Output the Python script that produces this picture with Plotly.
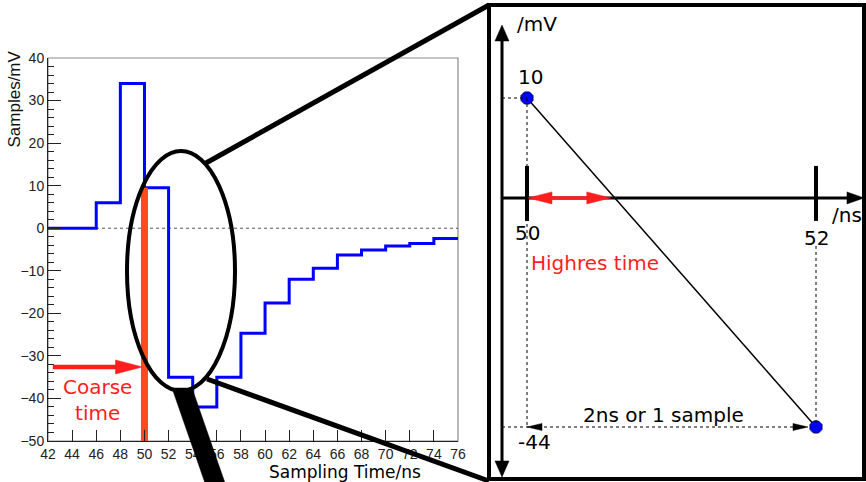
import plotly.graph_objects as go

W, H = 866, 482

# ---- waveform samples, one value per 2 ns bin ----
bin_edges = list(range(42, 78, 2))          # 42 ... 76 ns
samples = [0, 0, 6, 34, 9.5, -35, -42, -35, -24.7, -17.6,
           -12, -9.4, -6.3, -5.1, -4.2, -3.6, -2.4]
x_ticks = list(range(42, 78, 2))
y_ticks = list(range(-50, 50, 10))

coarse_time = 50
coarse_value = samples[bin_edges.index(coarse_time)]

# ---- the two samples used for the high-resolution interpolation ----
interp_t = [50, 52]
interp_v = [10, -44]
axis_level = -6.4          # level of the drawn time axis in the zoomed sketch


def lin(a0, p0, a1, p1):
    s = (p1 - p0) / (a1 - a0)
    return lambda a: p0 + (a - a0) * s


def inv(a0, p0, a1, p1):
    s = (a1 - a0) / (p1 - p0)
    return lambda p: a0 + (p - p0) * s


def PX(p):
    return p / W


def PY(p):
    return 1 - p / H


# pixel anchors of the left histogram frame
LX0, LX1, LY_TOP, LY_BOT = 48, 458, 58, 441
X1 = lin(42, LX0, 76, LX1)
Y1 = lin(40, LY_TOP, -50, LY_BOT)

# pixel anchors of the zoomed sketch (covers the whole canvas)
X2 = lin(interp_t[0], 527, interp_t[1], 816)
Y2 = lin(interp_v[0], 98, interp_v[1], 427)
x2_of = inv(interp_t[0], 527, interp_t[1], 816)
y2_of = inv(interp_v[0], 98, interp_v[1], 427)

BLUE = "#0000FF"
RED = "#FF1E1E"
ORANGE = "#FF4A1C"

fig = go.Figure()

# step histogram of the samples
fig.add_trace(go.Scatter(
    x=bin_edges, y=samples + [samples[-1]], mode="lines",
    line=dict(color=BLUE, width=3, shape="hv"),
    xaxis="x", yaxis="y", showlegend=False, hoverinfo="skip"))

# coarse time bar
fig.add_trace(go.Scatter(
    x=[coarse_time, coarse_time], y=[-50, coarse_value], mode="lines",
    line=dict(color=ORANGE, width=7),
    xaxis="x", yaxis="y", showlegend=False, hoverinfo="skip"))

# interpolation line between the two samples
fig.add_trace(go.Scatter(
    x=interp_t, y=interp_v, mode="lines",
    line=dict(color="black", width=1.5),
    xaxis="x2", yaxis="y2", showlegend=False, hoverinfo="skip"))
fig.add_trace(go.Scatter(
    x=interp_t, y=interp_v, mode="markers",
    marker=dict(symbol="octagon", size=13, color=BLUE,
                line=dict(color="#000060", width=1)),
    xaxis="x2", yaxis="y2", showlegend=False, hoverinfo="skip"))

shapes = []


def seg(x0, y0, x1, y1, color="black", width=1, dash="solid"):
    shapes.append(dict(type="line", xref="paper", yref="paper",
                       x0=PX(x0), y0=PY(y0), x1=PX(x1), y1=PY(y1),
                       line=dict(color=color, width=width, dash=dash),
                       layer="above"))


def head(tip, length, half_w, d, color):
    tx, ty = tip
    dx, dy = d
    bx, by = tx - dx * length, ty - dy * length
    nx, ny = -dy, dx
    pts = [(tx, ty), (bx + nx * half_w, by + ny * half_w),
           (bx - nx * half_w, by - ny * half_w)]
    path = "M " + " L ".join(f"{PX(x):.5f},{PY(y):.5f}" for x, y in pts) + " Z"
    shapes.append(dict(type="path", xref="paper", yref="paper", path=path,
                       fillcolor=color, line=dict(color=color, width=0.5),
                       layer="above"))


def poly(pts, color):
    path = "M " + " L ".join(f"{PX(x):.5f},{PY(y):.5f}" for x, y in pts) + " Z"
    shapes.append(dict(type="path", xref="paper", yref="paper", path=path,
                       fillcolor=color, line=dict(color=color, width=0.5),
                       layer="above"))


# grey frame of the histogram pad
shapes.append(dict(type="rect", xref="paper", yref="paper",
                   x0=PX(LX0), x1=PX(LX1), y0=PY(LY_BOT), y1=PY(LY_TOP),
                   line=dict(color="#8c8c8c", width=1.2), layer="below"))
# dotted zero line
shapes.append(dict(type="line", xref="x", yref="y", x0=42, x1=76, y0=0, y1=0,
                   line=dict(color="#555555", width=1, dash="dot"),
                   layer="below"))

# coarse time arrow
cy = Y1(-32.6)
seg(X1(42.4), cy, X1(coarse_time) - 26, cy, RED, 4.5)
head((X1(coarse_time) - 2, cy), 27, 7, (1, 0), RED)

# magnifier lens, handle and the two guide lines to the zoom box
shapes.append(dict(type="circle", xref="paper", yref="paper",
                   x0=PX(127), x1=PX(235), y0=PY(391), y1=PY(151),
                   line=dict(color="black", width=4), layer="above"))
poly([(172, 388), (192, 388), (225, 483), (205, 483)], "black")
seg(206, 163, 489, 5, "black", 5)
seg(207, 379, 489, 481, "black", 5)

# zoom box
shapes.append(dict(type="rect", xref="paper", yref="paper",
                   x0=PX(489), x1=PX(864), y0=PY(479), y1=PY(5),
                   line=dict(color="black", width=4), layer="above"))

# sketch axes
AX = 502
AY = Y2(axis_level)
seg(AX, 40, AX, 462, "black", 3)
head((AX, 25), 16, 7, (0, -1), "black")
head((AX, 477), 16, 7, (0, 1), "black")
seg(AX, AY, 850, AY, "black", 3)
head((864, AY), 17, 6, (1, 0), "black")

# ticks at the sample times
for t in interp_t:
    seg(X2(t), AY - 32, X2(t), AY + 23, "black", 4)

# dotted guides
xa, xb = X2(interp_t[0]), X2(interp_t[1])
ya, yb = Y2(interp_v[0]), Y2(interp_v[1])
seg(AX, ya, xa, ya, "black", 1, "dot")
seg(xa, ya, xa, yb, "black", 1, "dot")
seg(xb, AY + 48, xb, yb, "black", 1, "dot")
seg(AX, yb, xb - 8, yb, "black", 1, "dot")
head((xa, yb), 15, 3.5, (-1, 0), "black")
head((xb - 8, yb), 15, 3.5, (1, 0), "black")

# high resolution time arrow: from the sample time to the line crossing
t_cross = interp_t[0] + (interp_v[0] - axis_level) / (interp_v[0] - interp_v[1]) * (interp_t[1] - interp_t[0])
xc = X2(t_cross) - 4
seg(xa + 20, AY, xc - 20, AY, RED, 3.5)
head((xa + 1, AY), 24, 6, (-1, 0), RED)
head((xc, AY), 24, 6, (1, 0), RED)

annotations = []


def label(text, x, y, size=20, color="black", xanchor="center",
          yanchor="middle", family="DejaVu Sans", angle=0):
    annotations.append(dict(text=text, xref="paper", yref="paper",
                            x=PX(x), y=PY(y), showarrow=False,
                            xanchor=xanchor, yanchor=yanchor,
                            textangle=angle,
                            font=dict(family=family, size=size, color=color)))


label("Coarse<br>time", 61, 400, 20, RED, xanchor="left")
label("Highres time", 595, 263, 20, RED)
label("/mV", 537, 24, 20)
label("/ns", 847, 215, 20)
label(f"{interp_v[0]:g}", xa + 3, 77, 20)
label(f"{interp_v[1]:g}", xa + 7, 442, 20)
label(f"{interp_t[0]:g}", xa, 233, 20)
label(f"{interp_t[1]:g}", xb, 238, 20)
label("2ns or 1 sample", 663, 415, 20)
label("Sampling Time/ns", 345, 472, 17)
label("Samples/mV", 14, 49, 17, "#111111", yanchor="top",
      family="Liberation Sans Narrow, Liberation Sans", angle=-90)

tick_font = dict(family="Liberation Sans Narrow, Liberation Sans", size=14,
                 color="#222222")

fig.update_layout(
    width=W, height=H, autosize=False,
    margin=dict(l=0, r=0, t=0, b=0, pad=0, autoexpand=False),
    paper_bgcolor="white", plot_bgcolor="rgba(0,0,0,0)",
    showlegend=False,
    xaxis=dict(domain=[PX(LX0), PX(LX1)], range=[42, 76],
               tickvals=x_ticks, ticks="inside", ticklen=11,
               tickcolor="#222222", tickwidth=1,
               showline=True, linecolor="#222222", linewidth=1,
               showgrid=False, zeroline=False, tickfont=tick_font,
               anchor="y", automargin=False),
    yaxis=dict(domain=[PY(LY_BOT), PY(LY_TOP)], range=[-50, 40],
               tickvals=y_ticks, ticks="inside", ticklen=13,
               tickcolor="#222222", tickwidth=1,
               minor=dict(dtick=2, ticks="inside", ticklen=6,
                          tickcolor="#222222", showgrid=False),
               showline=True, linecolor="#222222", linewidth=1,
               showgrid=False, zeroline=False, tickfont=tick_font,
               anchor="x", automargin=False),
    xaxis2=dict(domain=[0, 1], range=[x2_of(0), x2_of(W)], visible=False,
                anchor="y2", automargin=False),
    yaxis2=dict(domain=[0, 1], range=[y2_of(H), y2_of(0)], visible=False,
                anchor="x2", automargin=False),
    shapes=shapes,
    annotations=annotations,
)

fig.write_html(
    "out.html",
    config={"responsive": False},
    post_script="document.body.style.margin='0';",
)
